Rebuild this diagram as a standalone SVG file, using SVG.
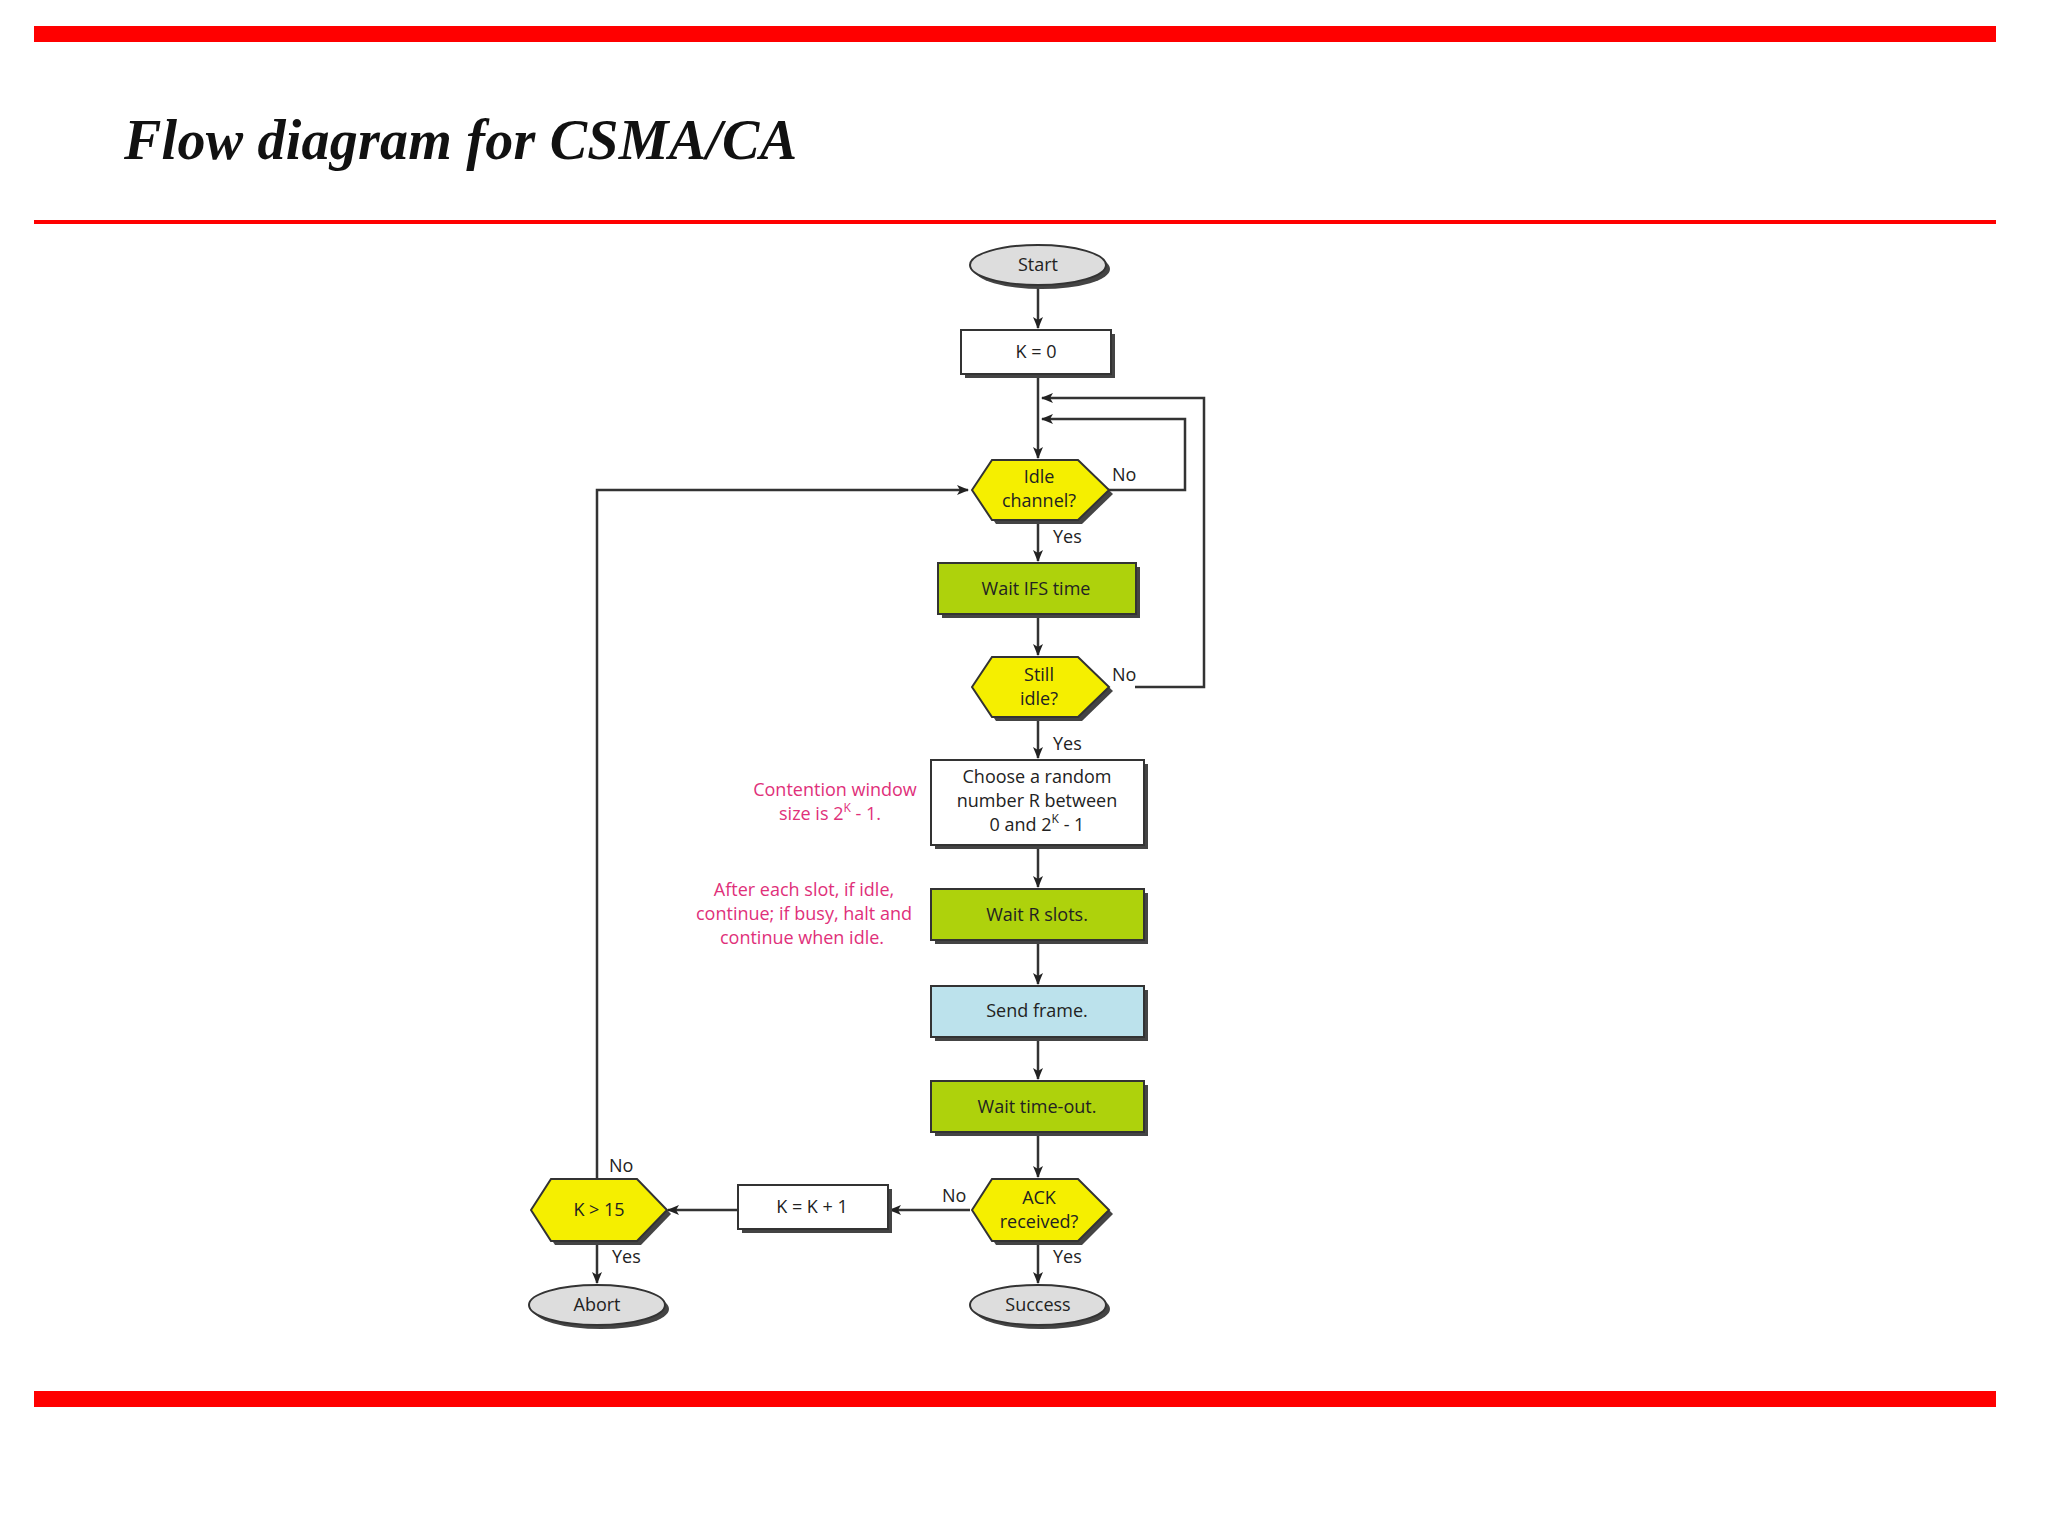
<svg xmlns="http://www.w3.org/2000/svg" xmlns:xlink="http://www.w3.org/1999/xlink" width="2048" height="1536" viewBox="0 0 2048 1536">
<defs>
<style>
.t{font-family:"Open Sans","DejaVu Sans",sans-serif;font-size:18px;fill:#222;text-anchor:middle}
.l{font-family:"Open Sans","DejaVu Sans",sans-serif;font-size:18px;fill:#222}
.m{font-family:"Open Sans","DejaVu Sans",sans-serif;font-size:18px;fill:#e0307a;text-anchor:middle}
.sh{fill:#444}
.b{stroke:#333;stroke-width:2}
.c{fill:none;stroke:#333;stroke-width:2.5}
</style>
<marker id="a" markerWidth="12" markerHeight="10" refX="11" refY="5" orient="auto" markerUnits="userSpaceOnUse">
<path d="M0,0 L12,5 L0,10 L3,5 Z" fill="#222"/>
</marker>
</defs>
<rect width="2048" height="1536" fill="#fff"/>
<rect x="34" y="26" width="1962" height="16" fill="#f00"/>
<text x="124" y="159" font-family="Liberation Serif,serif" font-size="56" font-weight="bold" font-style="italic" fill="#111" textLength="673" lengthAdjust="spacing">Flow diagram for CSMA/CA</text>
<rect x="34" y="220" width="1962" height="4" fill="#f00"/>
<rect x="34" y="1391" width="1962" height="16" fill="#f00"/>

<g id="connectors" class="c">
<path d="M1038,285 V328" marker-end="url(#a)"/>
<path d="M1038,374 V458" marker-end="url(#a)"/>
<path d="M1108,490 H1185 V419 H1042" marker-end="url(#a)"/>
<path d="M1135,687 H1204 V398 H1042" marker-end="url(#a)"/>
<path d="M1038,520 V561" marker-end="url(#a)"/>
<path d="M1038,614 V655" marker-end="url(#a)"/>
<path d="M1038,717 V758" marker-end="url(#a)"/>
<path d="M1038,845 V887" marker-end="url(#a)"/>
<path d="M1038,940 V984" marker-end="url(#a)"/>
<path d="M1038,1037 V1079" marker-end="url(#a)"/>
<path d="M1038,1132 V1177" marker-end="url(#a)"/>
<path d="M970,1210 H890" marker-end="url(#a)"/>
<path d="M738,1210 H668" marker-end="url(#a)"/>
<path d="M597,1180 V490 H968" marker-end="url(#a)"/>
<path d="M597,1240 V1283" marker-end="url(#a)"/>
<path d="M1038,1241 V1283" marker-end="url(#a)"/>
</g>

<g id="start"><ellipse class="sh" cx="1042" cy="269" rx="68" ry="20"/><ellipse class="b" cx="1038" cy="265" rx="68" ry="20" fill="#ddd"/><text class="t" x="1038" y="271">Start</text></g>
<g id="k0"><rect class="sh" x="965" y="334" width="150" height="44"/><rect class="b" x="961" y="330" width="150" height="44" fill="#fff"/><text class="t" x="1036" y="358">K = 0</text></g>
<g id="idle"><polygon class="sh" points="976,494 996,464 1082,464 1113,494 1082,524 996,524"/><polygon class="b" points="972,490 992,460 1078,460 1109,490 1078,520 992,520" fill="#f5ef00"/><text class="t" x="1039" y="483">Idle</text><text class="t" x="1039" y="507">channel?</text>
<text class="l" x="1112" y="481">No</text><text class="l" x="1053" y="543">Yes</text></g>
<g id="ifs"><rect class="sh" x="942" y="567" width="198" height="51"/><rect class="b" x="938" y="563" width="198" height="51" fill="#aed20c"/><text class="t" x="1036" y="595">Wait IFS time</text></g>
<g id="still"><polygon class="sh" points="976,691 996,661 1082,661 1113,691 1082,721 996,721"/><polygon class="b" points="972,687 992,657 1078,657 1109,687 1078,717 992,717" fill="#f5ef00"/><text class="t" x="1039" y="681">Still</text><text class="t" x="1039" y="705">idle?</text>
<text class="l" x="1112" y="681">No</text><text class="l" x="1053" y="750">Yes</text></g>
<g id="choose"><rect class="sh" x="935" y="764" width="213" height="85"/><rect class="b" x="931" y="760" width="213" height="85" fill="#fff"/>
<text class="t" x="1037" y="783">Choose a random</text><text class="t" x="1037" y="807">number R between</text><text class="t" x="1037" y="831">0 and 2<tspan font-size="12" dy="-8">K</tspan><tspan dy="8"> - 1</tspan></text></g>
<g id="note1"><text class="m" x="835" y="796">Contention window</text><text class="m" x="830" y="820">size is 2<tspan font-size="12" dy="-8">K</tspan><tspan dy="8"> - 1.</tspan></text></g>
<g id="waitr"><rect class="sh" x="935" y="893" width="213" height="51"/><rect class="b" x="931" y="889" width="213" height="51" fill="#aed20c"/><text class="t" x="1037" y="921">Wait R slots.</text></g>
<g id="note2"><text class="m" x="804" y="896">After each slot, if idle,</text><text class="m" x="804" y="920">continue; if busy, halt and</text><text class="m" x="802" y="944">continue when idle.</text></g>
<g id="send"><rect class="sh" x="935" y="990" width="213" height="51"/><rect class="b" x="931" y="986" width="213" height="51" fill="#bce2ec"/><text class="t" x="1037" y="1017">Send frame.</text></g>
<g id="timeout"><rect class="sh" x="935" y="1085" width="213" height="51"/><rect class="b" x="931" y="1081" width="213" height="51" fill="#aed20c"/><text class="t" x="1037" y="1113">Wait time-out.</text></g>
<g id="ack"><polygon class="sh" points="976,1214 996,1183 1082,1183 1113,1214 1082,1245 996,1245"/><polygon class="b" points="972,1210 992,1179 1078,1179 1109,1210 1078,1241 992,1241" fill="#f5ef00"/><text class="t" x="1039" y="1204">ACK</text><text class="t" x="1039" y="1228">received?</text>
<text class="l" x="942" y="1202">No</text><text class="l" x="1053" y="1263">Yes</text></g>
<g id="kinc"><rect class="sh" x="742" y="1189" width="150" height="44"/><rect class="b" x="738" y="1185" width="150" height="44" fill="#fff"/><text class="t" x="812" y="1213">K = K + 1</text></g>
<g id="k15"><polygon class="sh" points="535,1214 555,1183 641,1183 671,1214 641,1245 555,1245"/><polygon class="b" points="531,1210 551,1179 637,1179 667,1210 637,1241 551,1241" fill="#f5ef00"/><text class="t" x="599" y="1216">K &gt; 15</text>
<text class="l" x="609" y="1172">No</text><text class="l" x="612" y="1263">Yes</text></g>
<g id="abort"><ellipse class="sh" cx="601" cy="1309" rx="68" ry="20"/><ellipse class="b" cx="597" cy="1305" rx="68" ry="20" fill="#ddd"/><text class="t" x="597" y="1311">Abort</text></g>
<g id="success"><ellipse class="sh" cx="1042" cy="1309" rx="68" ry="20"/><ellipse class="b" cx="1038" cy="1305" rx="68" ry="20" fill="#ddd"/><text class="t" x="1038" y="1311">Success</text></g>
</svg>
